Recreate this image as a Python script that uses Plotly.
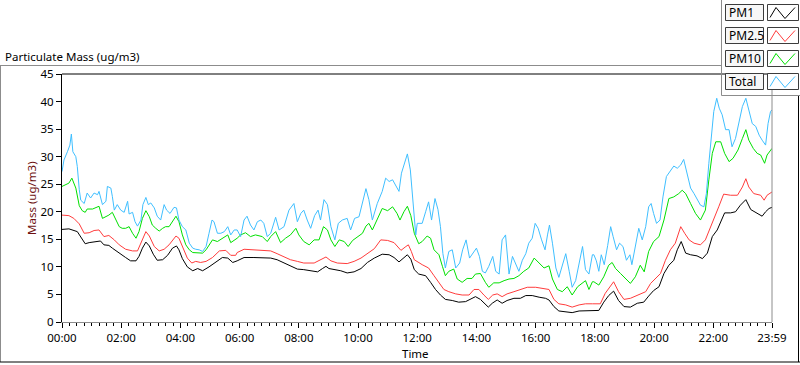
import plotly.graph_objects as go

# ---------------- data (minutes after midnight, ug/m3) ----------------
pm1_t = [0,14,31,38,47,55,68,78,85,95,102,116,129,139,150,156,163,170,177,185,193,204,214,224,232,237,244,254,265,275,285,298,312,325,336,346,
         355,369,389,409,423,436,450,463,477,490,504,518,528,535,541,551,565,578,592,606,619,633,649,663,673,683,692,700,707,714,
         723,727,737,747,757,767,777,791,804,818,828,838,848,858,864,872,882,892,902,916,929,940,953,967,980,987,997,1007,1021,1034,1048,1061,1075,
         1078,1088,1098,1108,1118,1128,1139,1152,1166,1179,1189,1199,1210,1220,1230,1240,1247,1255,1264,1274,1287,1298,1308,1318,1328,1335,1343,1355,1365,1375,1386,1396,1409,1419,1426,1433,1439]
pm1_v = [16.8,16.9,16.4,15.5,14.2,14.4,14.5,14.7,14.0,13.9,13.4,12.6,11.7,11.1,11.1,11.9,13.4,14.5,13.8,12.3,11.2,11.3,12.1,13.4,13.8,13.1,11.5,10.0,9.3,9.7,9.3,10.0,10.8,11.7,11.6,10.8,
         11.1,11.7,11.7,11.7,11.6,11.3,10.7,10.1,9.6,9.5,9.3,9.1,9.7,10.1,9.7,9.5,9.3,8.9,9.1,9.7,10.8,11.6,12.3,12.2,11.7,10.9,11.6,12.2,11.4,9.5,
         8.7,8.6,8.4,7.2,5.9,4.9,4.1,3.9,3.6,3.7,4.1,4.6,4.1,3.3,2.7,3.4,4.0,3.4,3.9,4.3,4.3,4.8,4.8,4.5,4.3,4.0,2.8,2.0,1.9,1.7,2.0,2.0,2.0,
         2.1,2.1,3.6,4.8,5.6,3.9,2.8,2.7,3.4,3.6,4.7,5.7,6.4,8.8,10.3,11.2,13.1,14.6,12.5,12.2,12.0,11.5,12.5,15.5,16.7,18.2,19.8,19.8,20.0,21.2,22.2,20.4,19.8,19.2,20.0,20.6,20.8]

pm25_t = [0,14,24,35,45,55,65,75,85,95,106,116,129,143,153,163,170,177,187,197,207,217,231,237,246,254,263,271,281,292,305,319,332,342,352,
          355,369,396,423,436,450,463,477,490,511,524,535,545,558,578,592,606,619,633,646,660,673,687,697,702,708,714,
          730,743,754,764,774,784,798,811,825,835,845,855,864,873,882,892,902,916,929,943,960,977,987,997,1007,1021,1034,1048,1061,1075,
          1078,1091,1101,1112,1118,1128,1139,1152,1166,1183,1193,1203,1213,1223,1233,1243,1254,1262,1271,1281,1294,1304,1311,1321,1331,1341,1355,1369,1379,1386,1392,1402,1416,1423,1429,1439]
pm25_v = [19.4,19.3,18.8,17.8,16.1,16.2,16.6,16.7,15.5,15.7,14.9,14.0,13.2,12.9,12.9,14.9,16.4,15.6,13.7,12.9,13.2,14.0,15.6,15.2,13.4,11.6,10.7,11.0,10.8,11.0,11.7,12.9,13.0,12.1,12.1,
          12.6,13.2,13.0,12.9,12.4,11.8,11.3,11.0,10.7,10.7,11.3,11.8,11.1,10.7,10.6,11.0,11.6,12.4,13.3,14.9,14.8,14.4,13.0,13.7,14.0,12.8,11.3,
          10.4,9.8,8.4,7.2,5.9,5.5,5.1,4.9,4.9,5.9,5.9,4.9,4.1,4.9,5.1,4.6,5.1,5.5,5.9,6.3,6.3,6.0,5.9,4.1,3.3,3.1,2.7,3.1,3.3,3.3,
          3.3,3.3,5.2,6.7,7.3,5.5,4.1,4.3,4.9,5.5,7.0,7.9,8.8,11.2,13.1,14.3,17.3,16.1,14.9,14.3,14.0,14.9,16.4,18.8,20.9,23.2,23.0,23.0,24.5,26.0,24.5,23.3,23.0,22.1,23.0,23.6]

pm10_t = [0,7,14,20,24,28,35,41,47,51,62,68,75,82,89,95,102,109,116,122,129,136,143,150,156,163,170,177,183,190,197,204,210,217,224,231,237,244,251,258,265,275,285,292,298,305,315,325,336,342,352,
          355,362,372,382,392,406,416,423,433,443,453,463,474,480,490,501,511,521,530,538,545,553,562,572,580,589,599,609,616,622,629,639,649,660,670,679,685,693,700,707,714,
          723,730,740,747,754,764,771,777,784,794,801,811,821,831,838,848,858,865,875,886,896,906,916,926,936,946,957,967,977,987,994,1004,1014,1024,1034,1045,1055,1061,1068,1075,
          1078,1088,1098,1108,1115,1122,1132,1142,1152,1162,1172,1180,1189,1199,1210,1220,1230,1240,1250,1257,1264,1274,1284,1294,1304,1311,1318,1325,1335,1343,1352,1360,1370,1379,1386,1392,1401,1409,1416,1424,1429,1439]
pm10_v = [24.6,24.9,25.2,26.1,25.2,24.3,21.1,20.2,19.9,20.5,20.5,20.7,21.0,18.8,19.1,19.4,19.9,18.6,17.3,17.0,17.0,17.3,16.1,15.2,16.4,18.8,20.2,19.1,17.6,17.0,16.5,17.0,17.3,17.3,18.2,19.2,18.2,15.8,14.0,13.1,12.6,12.6,12.5,13.1,14.0,14.9,14.6,15.2,15.8,14.4,14.9,
          15.2,15.8,16.2,15.5,15.8,15.5,14.6,15.5,16.4,14.4,15.2,15.8,17.0,15.8,14.6,14.0,14.9,14.9,17.3,16.7,14.9,13.7,14.9,14.6,13.7,14.8,15.5,16.1,17.4,17.9,16.7,18.5,20.6,20.2,20.9,19.7,18.5,20.0,21.0,19.3,16.1,
          14.2,14.6,15.6,15.2,13.1,12.2,10.1,8.4,9.2,9.6,7.8,7.2,7.9,7.9,8.7,8.8,7.2,6.3,7.1,7.1,7.5,7.8,7.9,8.4,9.2,9.8,11.6,10.7,9.8,10.2,7.8,5.9,5.5,6.4,4.9,6.4,7.2,7.5,5.9,7.3,
          7.3,6.7,8.2,10.3,10.8,9.7,8.8,7.9,7.0,8.2,10.3,9.1,12.8,14.6,15.5,18.5,22.4,22.7,23.3,23.9,23.3,21.5,19.7,18.5,20.3,25.8,30.6,32.7,32.7,30.6,29.1,29.7,31.2,33.3,34.9,33.0,31.5,30.6,30.3,28.8,30.3,31.5]

total_t = [0,4,11,16,19,22,28,31,35,38,45,51,58,65,72,75,82,89,92,99,102,106,112,119,126,133,136,143,148,153,160,164,170,175,180,187,193,200,207,212,219,227,232,237,244,251,258,265,271,278,285,292,298,304,308,315,322,329,336,342,349,
           355,362,369,375,382,389,396,403,409,416,423,433,440,450,460,470,477,484,490,497,504,512,519,524,531,538,545,553,560,568,578,585,593,602,609,616,622,629,639,649,656,663,670,677,683,688,693,700,706,710,714,717,
           720,730,737,743,749,756,762,767,772,777,784,791,798,806,812,819,826,833,840,846,852,858,865,873,879,886,892,899,906,913,919,926,933,940,946,953,959,965,972,979,984,988,994,1001,1007,1014,1021,1028,1034,1041,1048,1055,1061,1068,1075,
           1078,1083,1088,1093,1099,1106,1112,1117,1124,1130,1137,1144,1151,1155,1162,1169,1176,1183,1189,1194,1199,1205,1212,1218,1225,1233,1240,1247,1254,1260,1267,1274,1281,1287,1294,1301,1306,1311,1316,1321,1327,1332,1338,1345,1352,1358,1365,1372,1379,1386,1392,1399,1406,1413,1419,1426,1431,1436,1439]
total_v = [27.3,29.4,30.9,32.1,34.1,30.9,30.0,28.2,24.0,22.1,21.5,23.4,22.5,23.4,23.1,23.7,21.3,21.9,24.6,24.3,22.8,20.3,21.3,20.3,19.9,21.9,19.6,19.9,18.2,17.4,18.5,21.3,22.6,21.3,21.6,20.7,19.2,18.5,21.3,20.3,19.7,20.8,20.7,18.5,17.3,16.7,14.3,13.4,13.2,13.1,12.8,13.7,16.1,18.5,18.2,16.1,16.1,16.4,17.3,15.8,16.7,
           16.7,15.5,18.5,19.2,17.6,16.7,18.2,18.5,17.9,15.5,16.1,19.0,16.7,17.3,20.3,21.5,18.2,19.7,20.3,18.5,17.0,19.3,20.3,18.5,22.2,21.3,17.3,14.9,17.9,18.5,18.8,16.7,18.8,19.1,21.5,24.2,22.2,18.5,21.5,23.7,26.1,25.5,25.8,24.6,23.7,27.0,28.5,30.5,27.6,23.4,19.1,15.8,
           17.9,17.9,20.0,21.8,18.5,22.4,20.4,17.3,12.4,9.8,12.8,13.1,9.8,10.7,13.1,14.9,11.6,12.4,13.4,11.9,9.2,8.9,10.1,11.9,9.2,8.7,14.9,15.8,8.7,11.9,10.7,9.2,11.2,12.4,14.3,15.2,17.9,17.0,14.9,13.1,15.8,17.6,14.3,9.8,8.1,10.1,12.4,9.2,6.3,7.5,10.7,13.7,9.5,8.7,12.2,
           12.2,11.1,9.2,12.2,10.4,13.9,17.3,15.5,13.1,14.3,13.7,11.2,12.2,10.4,13.7,17.0,14.9,17.3,20.9,21.5,19.7,17.9,18.5,22.7,26.4,27.3,28.3,27.9,28.5,29.5,26.7,24.3,23.3,22.4,21.2,20.9,23.3,28.8,33.6,38.2,40.6,38.8,37.6,34.9,34.9,31.8,33.3,36.0,39.1,40.6,38.2,36.0,35.5,33.9,33.0,32.1,36.0,38.2,38.5]

series_names = ["PM1", "PM2.5", "PM10", "Total"]
series_colors = ["#000000", "#ff3c3c", "#00e000", "#3fbfff"]
x_tick_vals = [0, 120, 240, 360, 480, 600, 720, 840, 960, 1080, 1200, 1320, 1439]
x_tick_text = ["00:00", "02:00", "04:00", "06:00", "08:00", "10:00", "12:00", "14:00",
               "16:00", "18:00", "20:00", "22:00", "23:59"]
y_tick_vals = [0, 5, 10, 15, 20, 25, 30, 35, 40, 45]

# ---------------- layout geometry (pixels) ----------------
W, H = 800, 365
L, R, T, B = 62, 772, 74, 322
FONT = "Segoe UI, Noto Sans, sans-serif"
FS = 11.5


def px(x):
    return (x - L) / (R - L)


def py(y):
    return (B - y) / (B - T)


fig = go.Figure()
data = [(pm1_t, pm1_v), (pm25_t, pm25_v), (pm10_t, pm10_v), (total_t, total_v)]
for (t, v), name, col in zip(data, series_names, series_colors):
    fig.add_trace(go.Scatter(x=t, y=v, mode="lines", name=name,
                             line=dict(color=col, width=1), showlegend=False,
                             hoverinfo="skip"))

shapes = []
annotations = []


def line(x0, y0, x1, y1, color, width=1):
    shapes.append(dict(type="line", xref="paper", yref="paper",
                       x0=px(x0), y0=py(y0), x1=px(x1), y1=py(y1),
                       line=dict(color=color, width=width)))


# plot frame extra edges
line(L, T, R, T, "#000000")          # top black
line(R, T, R, B, "#8c8c8c")          # right gray
# outer chart frame
line(0, 65.5, 721, 65.5, "#8c8c8c")
line(0.5, 65.5, 0.5, 362, "#8c8c8c")
line(0, 362, 800, 362, "#000000")
line(798.5, 95, 798.5, 362, "#000000")
# legend panel border
line(721.5, 0, 721.5, 95.5, "#8c8c8c")
line(721.5, 95.5, 800, 95.5, "#8c8c8c")

rows_y = [4.5, 27.5, 50.5, 73.5]
for name, col, y0 in zip(series_names, series_colors, rows_y):
    y1 = y0 + 16
    shapes.append(dict(type="rect", xref="paper", yref="paper",
                       x0=px(725.5), x1=px(763.5), y0=py(y0), y1=py(y1),
                       line=dict(color="#3c3c3c", width=1), fillcolor="#f7f7f7"))
    shapes.append(dict(type="rect", xref="paper", yref="paper",
                       x0=px(767.5), x1=px(798.5), y0=py(y0), y1=py(y1),
                       line=dict(color="#3c3c3c", width=1), fillcolor="#ffffff"))
    pts = [(770, y1 - 3), (776, y0 + 3), (785, y1 - 2), (795, y0 + 3)]
    path = "M " + " L ".join(f"{px(a)},{py(b)}" for a, b in pts)
    shapes.append(dict(type="path", xref="paper", yref="paper", path=path,
                       line=dict(color=col, width=1)))
    annotations.append(dict(text=name, xref="paper", yref="paper",
                            x=px(727), y=py((y0 + y1) / 2), xanchor="left",
                            yanchor="middle", showarrow=False,
                            font=dict(family=FONT, size=12, color="#000000")))

annotations.append(dict(text="Particulate Mass (ug/m3)", xref="paper", yref="paper",
                        x=px(3), y=py(56), xanchor="left", yanchor="middle",
                        showarrow=False, font=dict(family=FONT, size=FS, color="#000000")))
annotations.append(dict(text="Time", xref="paper", yref="paper",
                        x=px(415), y=py(353), xanchor="center", yanchor="middle",
                        showarrow=False, font=dict(family=FONT, size=FS, color="#000000")))
annotations.append(dict(text="Mass (ug/m3)", xref="paper", yref="paper",
                        x=px(31), y=py(198), xanchor="center", yanchor="middle",
                        textangle=-90, showarrow=False,
                        font=dict(family=FONT, size=FS, color="#6e1010")))

fig.update_layout(
    width=W, height=H, autosize=False,
    margin=dict(l=L, r=W - R, t=T, b=H - B, pad=0),
    paper_bgcolor="#ffffff", plot_bgcolor="#ffffff",
    font=dict(family=FONT, size=FS, color="#000000"),
    shapes=shapes, annotations=annotations,
    xaxis=dict(range=[0, 1439], tickmode="array", tickvals=x_tick_vals,
               ticktext=x_tick_text, showgrid=False, zeroline=False,
               showline=True, linecolor="#8c8c8c", linewidth=1,
               ticks="outside", ticklen=5, tickcolor="#000000",
               tickfont=dict(family=FONT, size=FS, color="#000000"),
               minor=dict(dtick=15, tick0=0, ticks="outside", ticklen=3,
                          tickcolor="#000000", showgrid=False)),
    yaxis=dict(range=[0, 45], tickmode="array", tickvals=y_tick_vals,
               showgrid=False, zeroline=False, showline=True,
               linecolor="#000000", linewidth=1, ticks="outside", ticklen=5,
               tickcolor="#000000",
               tickfont=dict(family=FONT, size=FS, color="#000000")),
)

fig.write_html("out.html", config={"displayModeBar": False, "staticPlot": True},
               post_script="document.body.style.margin='0px';document.body.style.padding='0px';")
